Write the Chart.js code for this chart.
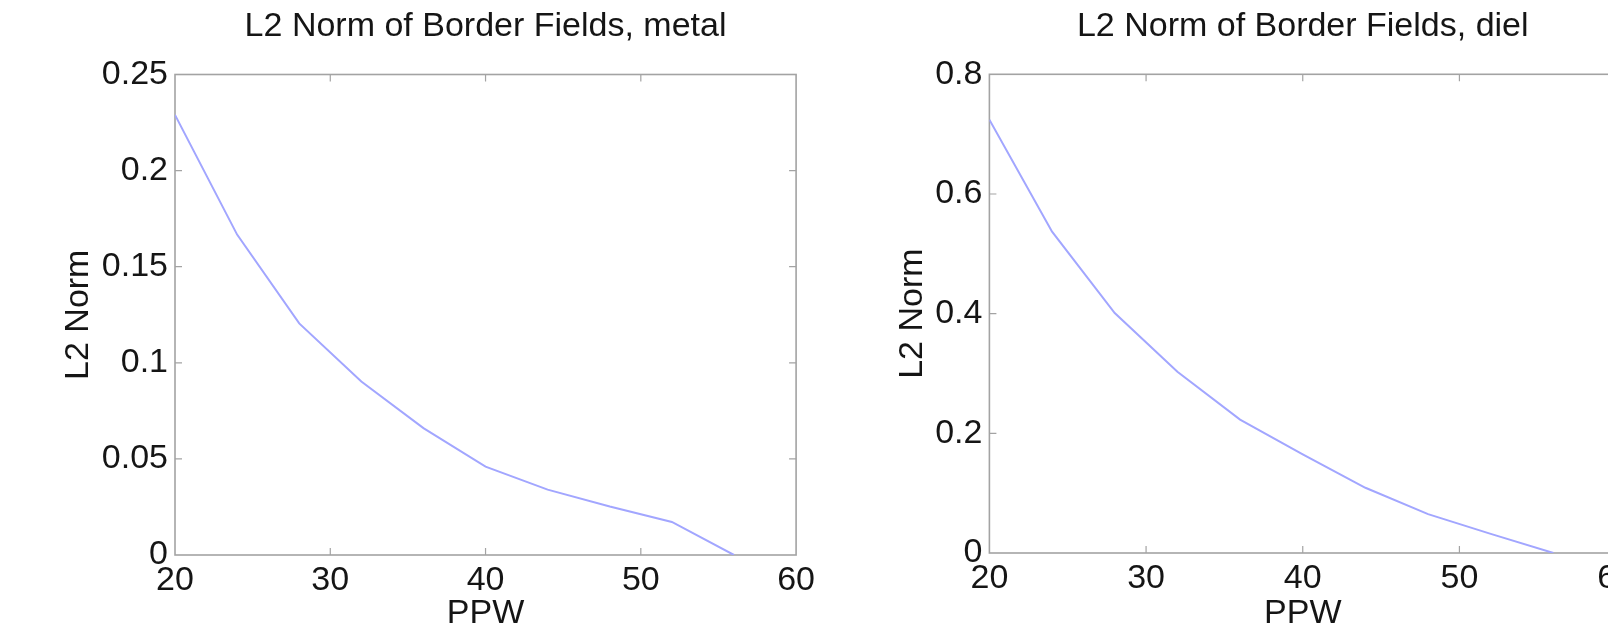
<!DOCTYPE html>
<html>
<head>
<meta charset="utf-8">
<script src="https://cdn.jsdelivr.net/npm/chart.js"></script>
<style>
  html, body { margin: 0; padding: 0; background: #fff; width: 1608px; height: 623px; overflow: hidden; }
  canvas { position: absolute; top: 0; }
  #metal-chart { left: 0; }
  #diel-chart { left: 820px; }
</style>
</head>
<body>
<canvas id="metal-chart" width="820" height="635"></canvas>
<canvas id="diel-chart" width="820" height="635"></canvas>
<script>
// points per wavelength
var ppw = [20, 24, 28, 32, 36, 40, 44, 48, 52, 56];

// L2 norm of the border fields
var metalNorm = [0.229, 0.1667, 0.1205, 0.0903, 0.066, 0.046, 0.034, 0.0252, 0.0172, 0];
var dielNorm = [0.724, 0.537, 0.401, 0.303, 0.223, 0.165, 0.109, 0.065, 0.032, 0];

// axis ticks
var ppwTicks = [20, 30, 40, 50, 60];
var metalTicks = [0, 0.05, 0.1, 0.15, 0.2, 0.25];
var dielTicks = [0, 0.2, 0.4, 0.6, 0.8];

var font = "'Liberation Sans', Arial, Helvetica, sans-serif";
var textColor = '#151515';
var boxColor = '#a3a3a3';

function points(xs, ys) {
  var pts = [];
  for (var i = 0; i < xs.length; i++) pts.push({ x: xs[i], y: ys[i] });
  return pts;
}

// box around the plot area with ticks pointing inward on all four sides
var boxPlugin = {
  id: 'box',
  beforeDatasetsDraw: function (chart) {
    var ctx = chart.ctx, a = chart.chartArea;
    var xs = chart.scales.x, ys = chart.scales.y;
    var len = 7;
    ctx.save();
    ctx.strokeStyle = boxColor;
    ctx.lineWidth = 1.6;
    ctx.strokeRect(a.left, a.top, a.right - a.left, a.bottom - a.top);
    ctx.lineWidth = 1.2;
    ctx.beginPath();
    xs.ticks.forEach(function (t) {
      var px = xs.getPixelForValue(t.value);
      if (Math.abs(px - a.left) < 1 || Math.abs(px - a.right) < 1) return;
      ctx.moveTo(px, a.bottom); ctx.lineTo(px, a.bottom - len);
      ctx.moveTo(px, a.top); ctx.lineTo(px, a.top + len);
    });
    ys.ticks.forEach(function (t) {
      var py = ys.getPixelForValue(t.value);
      if (Math.abs(py - a.top) < 1 || Math.abs(py - a.bottom) < 1) return;
      ctx.moveTo(a.left, py); ctx.lineTo(a.left + len, py);
      ctx.moveTo(a.right, py); ctx.lineTo(a.right - len, py);
    });
    ctx.stroke();
    ctx.restore();
  }
};

function makeChart(id, title, values, yTicks, lay) {
  return new Chart(document.getElementById(id), {
    type: 'line',
    data: {
      datasets: [{
        data: points(ppw, values),
        borderColor: '#a2a6ff',
        borderWidth: 2,
        pointRadius: 0,
        tension: 0,
        fill: false
      }]
    },
    options: {
      responsive: false,
      animation: false,
      devicePixelRatio: 1,
      layout: { padding: { left: 0, right: lay.padRight, top: 0, bottom: 0 } },
      plugins: {
        legend: { display: false },
        tooltip: { enabled: false },
        title: {
          display: true,
          text: title,
          fullSize: false,
          color: textColor,
          font: { family: font, size: 34, weight: 'normal', lineHeight: 1.2 },
          padding: { top: lay.titleTop, bottom: lay.titleBottom }
        }
      },
      scales: {
        x: {
          type: 'linear',
          min: 20,
          max: 60,
          afterBuildTicks: function (s) { s.ticks = ppwTicks.map(function (v) { return { value: v }; }); },
          afterFit: function (s) { s.height = lay.xHeight; },
          grid: { display: false, drawTicks: false },
          border: { display: false },
          ticks: {
            color: textColor,
            padding: 5,
            maxRotation: 0,
            font: { family: font, size: 34, lineHeight: 1.2 },
            callback: function (v) { return String(v); }
          },
          title: {
            display: true,
            text: 'PPW',
            color: textColor,
            font: { family: font, size: 34, lineHeight: 1.2 },
            padding: { top: 0, bottom: lay.xTitleBottom }
          }
        },
        y: {
          type: 'linear',
          min: yTicks[0],
          max: yTicks[yTicks.length - 1],
          afterBuildTicks: function (s) { s.ticks = yTicks.map(function (v) { return { value: v }; }); },
          afterFit: function (s) { s.width = lay.yWidth; },
          grid: { display: false, drawTicks: false },
          border: { display: false },
          ticks: {
            color: textColor,
            padding: 7,
            font: { family: font, size: 34, lineHeight: 1.2 },
            callback: function (v) { return String(v); }
          },
          title: {
            display: true,
            text: 'L2 Norm',
            color: textColor,
            font: { family: font, size: 34, lineHeight: 1.2 },
            padding: { top: lay.yTitleLeft, bottom: 0 }
          }
        }
      }
    },
    plugins: [boxPlugin]
  });
}

makeChart('metal-chart', 'L2 Norm of Border Fields, metal', metalNorm, metalTicks,
  { padRight: 23, titleTop: 6.6, titleBottom: 27.1, xHeight: 80, xTitleBottom: 0.6, yWidth: 175, yTitleLeft: 58.6 });

makeChart('diel-chart', 'L2 Norm of Border Fields, diel', dielNorm, dielTicks,
  { padRight: 20, titleTop: 6.6, titleBottom: 26.9, xHeight: 82, xTitleBottom: 0.6, yWidth: 169.4, yTitleLeft: 72.6 });
</script>
</body>
</html>
